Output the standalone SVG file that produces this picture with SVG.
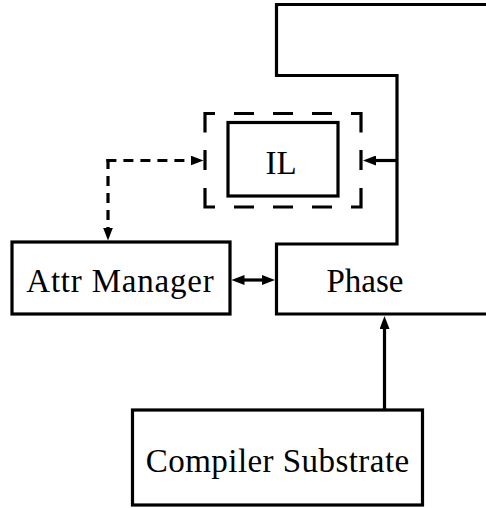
<svg xmlns="http://www.w3.org/2000/svg" width="486" height="508" viewBox="0 0 486 508">
<style>
.box{fill:none;stroke:#000;stroke-width:3.2}
.dbox{fill:none;stroke:#000;stroke-width:3.2;stroke-linecap:butt;stroke-linejoin:miter}
.ln{fill:none;stroke:#000;stroke-width:3.2}
.dl{fill:none;stroke:#000;stroke-width:3.2;stroke-dasharray:10 7}
.lbl{font-family:"Liberation Serif","Times New Roman",serif;font-size:33px;fill:#000;text-anchor:middle}
</style>
<defs>
<marker id="ah" markerUnits="userSpaceOnUse" viewBox="0 0 13 10" markerWidth="13" markerHeight="10" refX="2" refY="5" orient="auto">
<path d="M0,0 L13,5 L0,10 z" fill="#000"/>
</marker>
</defs>
<rect width="486" height="508" fill="#fff"/>
<g id="phase">
<path class="box" d="M487,4.5 H276.5 V75.5 H397 V244 H276.5 V314 H487"/>
<text class="lbl" x="365" y="292">Phase</text>
</g>
<g id="il-frame">
<path class="dbox" d="M215,113.5 H205 V132.5 M234,113.5 H254 M273,113.5 H293 M312,113.5 H332 M351,113.5 H361 V132.5 M205,150 V170 M361,150 V170 M205,188 V207 H215 M361,188 V207 H351 M234,207 H254 M273,207 H293 M312,207 H332"/>
</g>
<g id="il">
<rect class="box" x="228" y="122.5" width="110" height="73.5"/>
<text class="lbl" x="281" y="174">IL</text>
</g>
<g id="attr-manager">
<rect class="box" x="12" y="242" width="218" height="72"/>
<text class="lbl" x="120.4" y="292" letter-spacing="0.8">Attr Manager</text>
</g>
<g id="compiler-substrate">
<rect class="box" x="132.5" y="410" width="290" height="95"/>
<text class="lbl" x="277.7" y="472" letter-spacing="0.45">Compiler Substrate</text>
</g>
<g id="connectors">
<path class="ln" d="M397,160.5 H374" marker-end="url(#ah)"/>
<path class="ln" d="M253,280 H242.5" marker-end="url(#ah)"/>
<path class="ln" d="M253,280 H264" marker-end="url(#ah)"/>
<path class="ln" d="M384.5,410 V327" marker-end="url(#ah)"/>
<path class="dl" d="M106.4,160.5 H192.5" marker-end="url(#ah)"/>
<path class="dl" d="M108,158.9 V229.5" marker-end="url(#ah)"/>
</g>
</svg>
